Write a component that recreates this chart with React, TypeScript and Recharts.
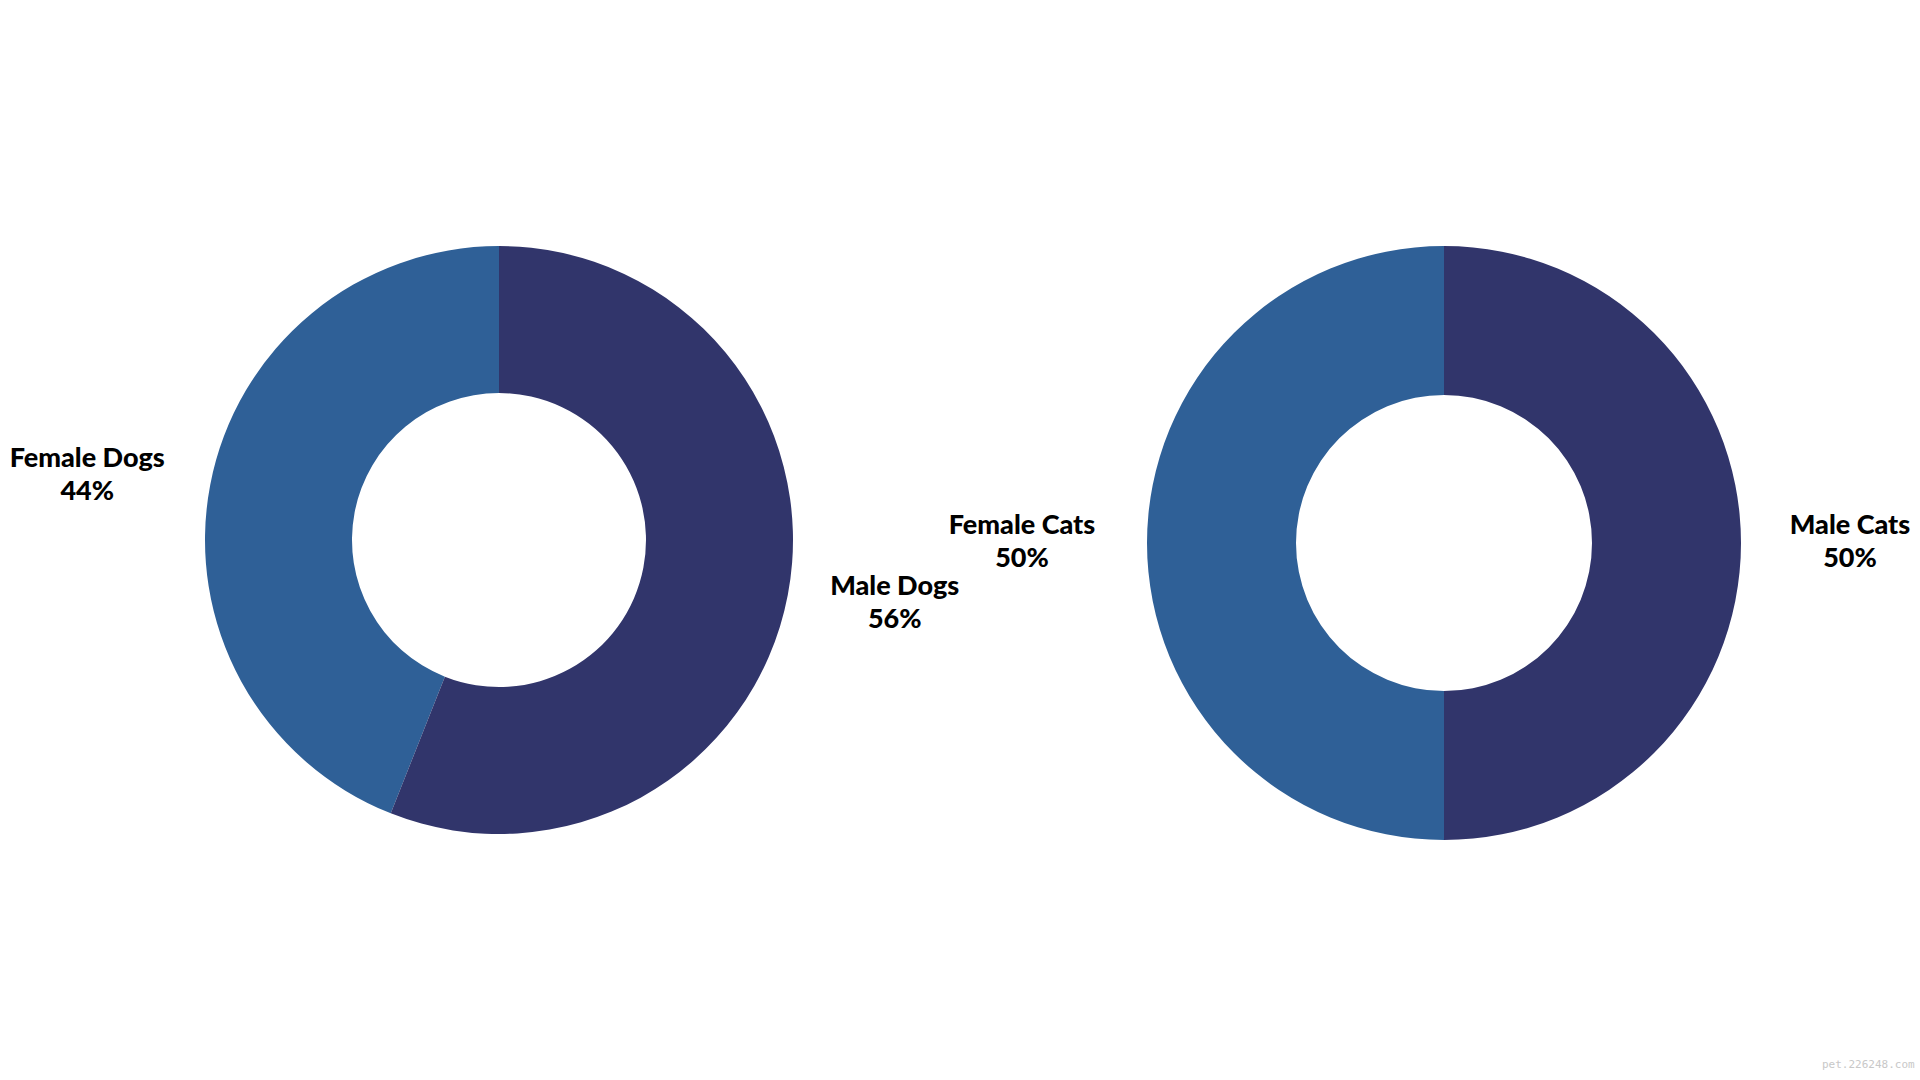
import React from "react";
import { PieChart, Pie, Cell } from "recharts";

const dogLabels = ["Female Dogs", "Male Dogs"];
const dogShares = [44, 56];
const catLabels = ["Female Cats", "Male Cats"];
const catShares = [50, 50];
const sliceColors = ["#2f6097", "#31356b"];

const dogData = dogLabels.map((name, i) => ({ name, value: dogShares[i] }));
const catData = catLabels.map((name, i) => ({ name, value: catShares[i] }));

const RADIAN = Math.PI / 180;

// two-line label placed outside the ring along the slice's mid angle
const renderLabel = (props: any) => {
  const { cx, cy, midAngle, outerRadius, name, value } = props;
  const r = outerRadius + 117;
  const x = cx + r * Math.cos(-midAngle * RADIAN) - 8;
  const y = cy + r * Math.sin(-midAngle * RADIAN) * 0.83;
  return (
    <text
      x={x}
      y={y}
      textAnchor="middle"
      fill="#000"
      fontFamily="Lato, 'Open Sans', sans-serif"
      fontWeight={900}
      fontSize={27}
    >
      <tspan x={x} y={y - 9}>{name}</tspan>
      <tspan x={x} y={y + 24}>{`${value}%`}</tspan>
    </text>
  );
};

export default function App() {
  return (
    <div style={{ position: "absolute", left: 0, top: 0, width: 1920, height: 1080, background: "#fff" }}>
      <PieChart width={1920} height={1080}>
        <Pie
          data={dogData}
          dataKey="value"
          nameKey="name"
          cx={494}
          cy={535}
          innerRadius={147}
          outerRadius={294}
          startAngle={90}
          endAngle={450}
          stroke="none"
          label={renderLabel}
          labelLine={false}
          isAnimationActive={false}
        >
          {dogData.map((d, i) => (
            <Cell key={d.name} fill={sliceColors[i]} />
          ))}
        </Pie>
        <Pie
          data={catData}
          dataKey="value"
          nameKey="name"
          cx={1439}
          cy={538}
          innerRadius={148}
          outerRadius={297}
          startAngle={90}
          endAngle={450}
          stroke="none"
          label={renderLabel}
          labelLine={false}
          isAnimationActive={false}
        >
          {catData.map((d, i) => (
            <Cell key={d.name} fill={sliceColors[i]} />
          ))}
        </Pie>
      </PieChart>
      <div
        style={{
          position: "absolute",
          left: 1822,
          top: 1058,
          fontFamily: "'DejaVu Sans Mono', monospace",
          fontSize: 11,
          color: "#c8c8c8",
        }}
      >
        pet.226248.com
      </div>
    </div>
  );
}
